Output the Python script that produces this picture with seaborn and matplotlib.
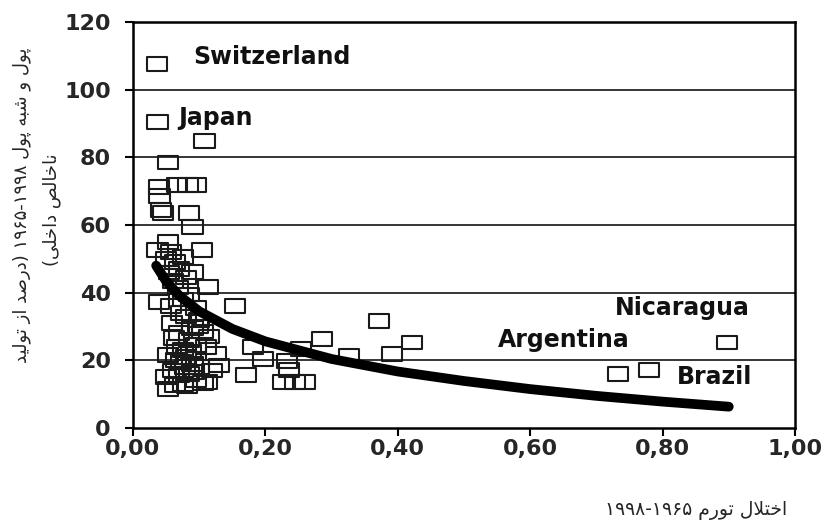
import re
import unicodedata
import matplotlib
matplotlib.use("Agg")
import matplotlib.pyplot as plt
from matplotlib.path import Path
import seaborn as sns
import pandas as pd

# ---------------- data ----------------
inflation = [
    0.036, 0.037, 0.108, 0.053,
    0.039, 0.040, 0.067, 0.083, 0.095,
    0.042, 0.045, 0.085, 0.090,
    0.053, 0.037, 0.104,
    0.050, 0.058, 0.064, 0.070, 0.076, 0.080, 0.055, 0.090, 0.060, 0.068, 0.113, 0.085,
    0.039, 0.075, 0.095, 0.154, 0.080, 0.100, 0.059, 0.090, 0.105, 0.070, 0.062, 0.085,
    0.095, 0.110, 0.075, 0.053, 0.065, 0.080, 0.090, 0.100, 0.120, 0.060, 0.070, 0.085,
    0.050, 0.053, 0.075, 0.095, 0.106, 0.112, 0.130, 0.125, 0.115, 0.072, 0.088, 0.066,
    0.098, 0.078, 0.058, 0.064, 0.082, 0.073, 0.092,
    0.181, 0.196, 0.171, 0.233, 0.236, 0.227, 0.245, 0.260, 0.254, 0.286, 0.326, 0.372,
    0.391, 0.421, 0.732, 0.779, 0.897,
]
money = [
    107.5, 90.5, 84.8, 78.5,
    71.2, 68.6, 71.8, 71.8, 71.8,
    64.4, 63.6, 63.5, 59.5,
    55.0, 52.6, 52.6,
    50.0, 52.0, 49.0, 47.0, 50.5, 44.5, 46.0, 46.2, 43.5, 41.5, 41.7, 39.5,
    37.2, 38.0, 35.5, 36.0, 33.0, 32.0, 31.0, 29.5, 28.5, 28.0, 26.6, 26.0,
    24.5, 24.0, 23.0, 21.6, 20.0, 21.0, 19.0, 18.0, 17.0, 17.0, 15.5, 16.0,
    15.0, 11.5, 13.0, 14.0, 13.3, 13.6, 18.5, 22.0, 27.0, 34.0, 22.5, 24.0,
    30.0, 18.0, 36.0, 12.8, 12.5, 19.5, 16.5,
    24.0, 20.4, 15.7, 19.8, 17.2, 13.6, 13.6, 13.6, 23.4, 26.3, 21.3, 31.6,
    21.9, 25.3, 16.0, 17.1, 25.3,
]

# trend curve
trend_x = [0.035, 0.05, 0.07, 0.10, 0.15, 0.20, 0.30, 0.40, 0.50, 0.60, 0.70, 0.80, 0.90]
trend_y = [48.0, 43.4, 39.1, 34.5, 29.3, 25.6, 20.4, 16.7, 13.9, 11.5, 9.5, 7.8, 6.3]

countries = ["Switzerland", "Japan", "Nicaragua", "Argentina", "Brazil"]
label_x = [0.091, 0.068, 0.728, 0.551, 0.822]
label_y = [109.7, 91.6, 35.5, 26.0, 15.0]

x_ticks = [0.0, 0.2, 0.4, 0.6, 0.8, 1.0]
x_tick_labels = ["0,00", "0,20", "0,40", "0,60", "0,80", "1,00"]
y_ticks = [0, 20, 40, 60, 80, 100, 120]
y_tick_labels = ["0", "20", "40", "60", "80", "100", "120"]

x_title = "اختلال تورم ۱۹۹۸-۱۹۶۵"
y_title_1 = "پول و شبه پول ۱۹۶۵-۱۹۹۸ (درصد از تولید"
y_title_2 = "ناخالص داخلی)"


# ---------------- simple Persian shaping (presentation forms, visual order) ----------------
def _is_ar(c):
    return ("\u0600" <= c <= "\u06FF") and not ("\u06F0" <= c <= "\u06F9") and not ("\u0660" <= c <= "\u0669")


def _form(c, kind):
    try:
        return unicodedata.lookup(f"{unicodedata.name(c)} {kind} FORM")
    except (KeyError, ValueError):
        return None


def _dual(c):
    return bool(c) and _is_ar(c) and _form(c, "INITIAL") is not None


def shape_rtl(text):
    out = []
    i, n = 0, len(text)
    while i < n:
        c = text[i]
        if not _is_ar(c):
            out.append(c)
            i += 1
            continue
        prev = text[i - 1] if i > 0 else ""
        joins_prev = _dual(prev)
        if c == "ل" and i + 1 < n and text[i + 1] == "ا":
            kind = "FINAL" if joins_prev else "ISOLATED"
            out.append(unicodedata.lookup(f"ARABIC LIGATURE LAM WITH ALEF {kind} FORM"))
            i += 2
            continue
        nxt = text[i + 1] if i + 1 < n else ""
        joins_next = _dual(c) and bool(nxt) and _is_ar(nxt)
        if joins_prev and joins_next:
            kind = "MEDIAL"
        elif joins_prev:
            kind = "FINAL"
        elif joins_next:
            kind = "INITIAL"
        else:
            kind = "ISOLATED"
        out.append(_form(c, kind) or c)
        i += 1
    s = "".join(out)[::-1]
    s = s.translate(str.maketrans("()", ")("))
    s = re.sub(r"[\u06F0-\u06F90-9][\u06F0-\u06F90-9\-]*[\u06F0-\u06F90-9]|[\u06F0-\u06F90-9]",
               lambda m: m.group(0)[::-1], s)
    return s


# ---------------- plot ----------------
sns.set_style("white")
plt.rcParams["font.family"] = ["DejaVu Sans"]

fig = plt.figure(figsize=(8.27, 5.24), dpi=100)
ax = fig.add_axes([0.1608, 0.1832, 0.9613 - 0.1608, 0.958 - 0.1832])

df = pd.DataFrame({"inflation": inflation, "money": money})
trend = pd.DataFrame({"x": trend_x, "y": trend_y})

rect = Path([(-1, -0.68), (1, -0.68), (1, 0.68), (-1, 0.68), (-1, -0.68)],
            [Path.MOVETO, Path.LINETO, Path.LINETO, Path.LINETO, Path.CLOSEPOLY])

for yv in y_ticks[1:-1]:
    ax.axhline(yv, color="black", linewidth=1.1, zorder=1)

sns.scatterplot(data=df, x="inflation", y="money", ax=ax, marker=rect, s=210,
                facecolor="none", edgecolor="#1a1a1a", linewidth=1.5, zorder=3)
sns.lineplot(data=trend, x="x", y="y", ax=ax, color="black", linewidth=7,
             solid_capstyle="round", zorder=4)

for name, lx, ly in zip(countries, label_x, label_y):
    ax.text(lx, ly, name, fontsize=17, fontweight="bold", ha="left", va="center",
            color="#111111", zorder=5)

ax.set_xlim(0, 1.0)
ax.set_ylim(0, 120)
ax.set_xticks(x_ticks)
ax.set_xticklabels(x_tick_labels)
ax.set_yticks(y_ticks)
ax.set_yticklabels(y_tick_labels)
ax.set_xlabel("")
ax.set_ylabel("")
ax.tick_params(axis="both", direction="out", length=6, width=1.5, color="black",
               labelsize=16, bottom=True, left=True)
ax.tick_params(axis="x", pad=2)
ax.tick_params(axis="y", pad=10)
for lab in ax.get_xticklabels() + ax.get_yticklabels():
    lab.set_fontweight("bold")
for sp in ax.spines.values():
    sp.set_visible(True)
    sp.set_color("black")
    sp.set_linewidth(1.8)

fig.text(696 / 827, 1 - 510 / 524, shape_rtl(x_title), fontsize=13.5, ha="center", va="center",
         family=["DejaVu Sans"])
fig.text(22 / 827, 1 - 205 / 524, shape_rtl(y_title_1), fontsize=13, rotation=90,
         ha="center", va="center", family=["DejaVu Sans"])
fig.text(52 / 827, 1 - 210 / 524, shape_rtl(y_title_2), fontsize=13, rotation=90,
         ha="center", va="center", family=["DejaVu Sans"])

fig.savefig("out.png", dpi=100)
